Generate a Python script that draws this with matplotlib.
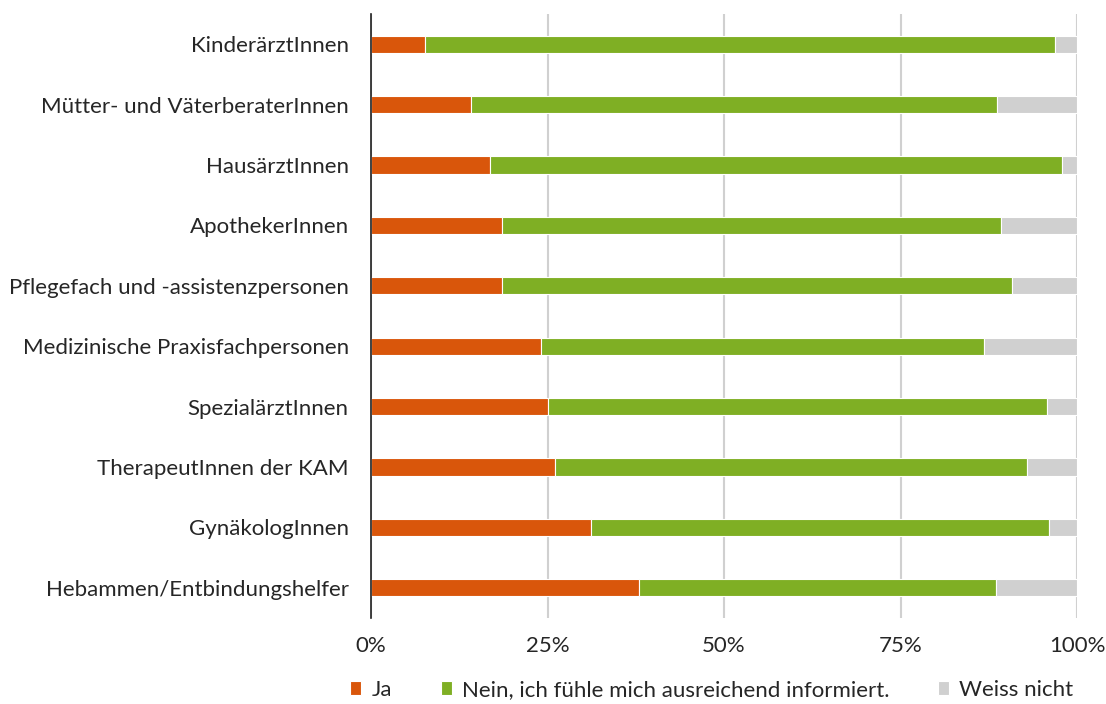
import matplotlib.pyplot as plt
import numpy as np

plt.rcParams["font.family"] = ["Lato", "DejaVu Sans"]
plt.rcParams["font.size"] = 16

categories = [
    "KinderärztInnen",
    "Mütter- und VäterberaterInnen",
    "HausärztInnen",
    "ApothekerInnen",
    "Pflegefach und -assistenzpersonen",
    "Medizinische Praxisfachpersonen",
    "SpezialärztInnen",
    "TherapeutInnen der KAM",
    "GynäkologInnen",
    "Hebammen/Entbindungshelfer",
]
ja = [7.6, 14.1, 16.9, 18.5, 18.6, 24.1, 25.0, 26.1, 31.2, 38.0]
nein = [89.3, 74.5, 81.0, 70.8, 72.2, 62.7, 70.7, 66.8, 64.9, 50.5]
weiss = [100 - a - b for a, b in zip(ja, nein)]

series_labels = ["Ja", "Nein, ich fühle mich ausreichend informiert.", "Weiss nicht"]
colors = ["#D9560B", "#7FAF24", "#D0D0D0"]
tick_vals = [0, 25, 50, 75, 100]
tick_labels = ["0%", "25%", "50%", "75%", "100%"]


def main():
    fig = plt.figure(figsize=(11.06, 7.04), dpi=100)
    ax = fig.add_axes([371 / 1106, 1 - 618 / 704, 706 / 1106, 604 / 704])

    y = np.arange(len(categories))
    left = np.zeros(len(categories))
    for vals, lab, col in zip([ja, nein, weiss], series_labels, colors):
        ax.barh(y, vals, left=left, height=0.285, color=col, label=lab,
                edgecolor="white", linewidth=0.8, zorder=3)
        left += np.array(vals)

    ax.set_ylim(len(categories) - 0.5, -0.5)
    ax.set_xlim(0, 100)
    ax.set_yticks(y)
    ax.set_yticklabels(categories, color="#262626")
    ax.set_xticks(tick_vals)
    ax.set_xticklabels(tick_labels, color="#262626")
    ax.tick_params(axis="both", length=0)
    ax.tick_params(axis="x", pad=13)
    ax.tick_params(axis="y", pad=16)
    ax.xaxis.grid(True, color="#D0D0D0", linewidth=1.5, zorder=0)
    for s in ["top", "right", "bottom"]:
        ax.spines[s].set_visible(False)
    ax.spines["left"].set_color("#202020")
    ax.spines["left"].set_linewidth(1.2)
    ax.spines["left"].set_zorder(4)

    fig.legend(loc="center", bbox_to_anchor=(712 / 1106, 1 - 690 / 704),
               ncol=3, frameon=False, handlelength=0.5, handleheight=0.6,
               handletextpad=0.45, columnspacing=2.2, labelcolor="#262626")
    fig.savefig("out.png", dpi=100)


if __name__ == "__main__":
    main()
